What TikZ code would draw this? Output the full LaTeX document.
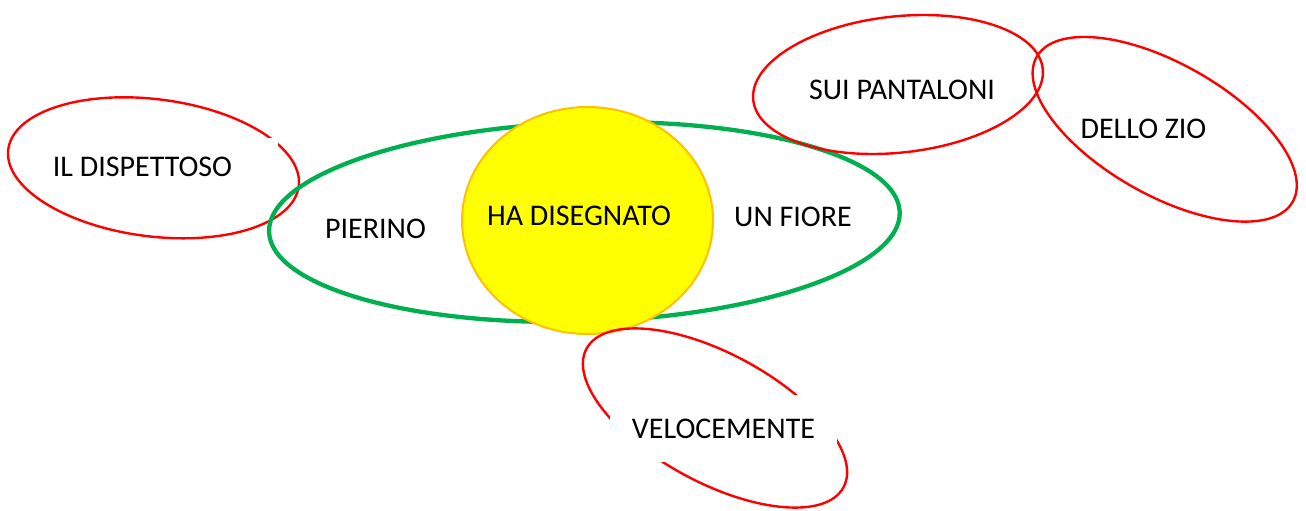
\documentclass[tikz,border=0pt]{standalone}
\usepackage{fontspec}
\setmainfont{Carlito}
\definecolor{myred}{RGB}{255,0,0}
\definecolor{mygreen}{RGB}{0,176,80}
\definecolor{myyellow}{RGB}{255,255,0}
\definecolor{myorange}{RGB}{255,192,0}
\begin{document}
\begin{tikzpicture}[x=1pt,y=-1pt,
  redring/.style={draw=myred, line width=2.4pt},
  greenring/.style={draw=mygreen, line width=4.3pt},
  sunring/.style={draw=myorange, fill=myyellow, line width=2pt},
  word/.style={inner sep=0pt, font=\fontsize{30}{36}\selectfont, text=black},
  wordbox/.style={word, fill=white, minimum width=227pt, minimum height=67pt}]
\useasboundingbox (0,0) rectangle (1306,511);
% IL DISPETTOSO
\draw[redring, rotate around={-7.2:(153.5,167.8)}] (153.5,167.8) ellipse [x radius=146.4, y radius=68.6];
\fill[white] (40,138) rectangle (278,195);
\node[word] (dispettoso) at (142.5,167) {IL DISPETTOSO};
% main green ellipse
\draw[greenring, rotate around={1.8:(584.4,222)}] (584.4,222) ellipse [x radius=315.5, y radius=99.5];
% yellow circle
\draw[sunring] (587.5,220.5) ellipse [x radius=125.5, y radius=113.5];
% VELOCEMENTE
\draw[redring, rotate around={-28.35:(715,418)}] (715,418) ellipse [x radius=146, y radius=64.5];
\node[wordbox] (veloce) at (723.5,428.5) {VELOCEMENTE};
% SUI PANTALONI
\draw[redring, rotate around={6.15:(898,84.5)}] (898,84.5) ellipse [x radius=145.6, y radius=68.1];
\node[word] (pantaloni) at (902,89.5) {SUI PANTALONI};
% DELLO ZIO
\draw[redring, rotate around={-29.5:(1164.7,129.3)}] (1164.7,129.3) ellipse [x radius=147.1, y radius=65.8];
\node[word] (zio) at (1143.5,129) {DELLO ZIO};
% inner words
\node[word] (pierino) at (375.5,229) {PIERINO};
\node[word] (disegnato) at (579,215.5) {HA DISEGNATO};
\node[word] (fiore) at (793,216.5) {UN FIORE};
\end{tikzpicture}
\end{document}
